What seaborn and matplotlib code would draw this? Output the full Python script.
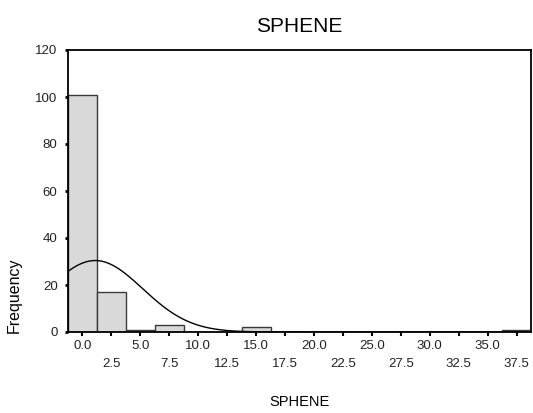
import numpy as np
import pandas as pd
import matplotlib
matplotlib.use("Agg")
import matplotlib.pyplot as plt
import seaborn as sns

# Data (bin centers, counts)
bin_centers = [0.0, 2.5, 5.0, 7.5, 10.0, 12.5, 15.0, 17.5, 20.0, 22.5, 25.0, 27.5, 30.0, 32.5, 35.0, 37.5]
counts = [101, 17, 1, 3, 0, 0, 2, 0, 0, 0, 0, 0, 0, 0, 0, 1]
tick_labels = ["0.0", "2.5", "5.0", "7.5", "10.0", "12.5", "15.0", "17.5", "20.0",
               "22.5", "25.0", "27.5", "30.0", "32.5", "35.0", "37.5"]
y_ticks = [0, 20, 40, 60, 80, 100, 120]
bin_width = 2.5
# Normal curve parameters (fitted curve shown in the reference)
curve_mean = 1.1
curve_sd = 4.1

sns.set_theme(style="white")
plt.rcParams["font.family"] = ["Liberation Sans", "DejaVu Sans"]
plt.rcParams["text.color"] = "black"
plt.rcParams["xtick.color"] = "black"
plt.rcParams["ytick.color"] = "black"
plt.rcParams["axes.labelcolor"] = "black"

fig = plt.figure(figsize=(5.33, 4.13), dpi=100)
ax = fig.add_axes([68/533, 81/413, 463/533, 282/413])

df = pd.DataFrame({"SPHENE": bin_centers, "count": counts})
lo = bin_centers[0] - bin_width / 2
hi = bin_centers[-1] + bin_width / 2
sns.histplot(data=df, x="SPHENE", weights="count", binwidth=bin_width, binrange=(lo, hi), ax=ax,
             color="#d9d9d9", edgecolor="#3a3a3a", linewidth=1.0, alpha=1.0)

n_total = sum(counts)
xs = np.linspace(lo, hi, 400)
ys = n_total * bin_width * np.exp(-0.5 * ((xs - curve_mean) / curve_sd) ** 2) / (curve_sd * np.sqrt(2 * np.pi))
sns.lineplot(x=xs, y=ys, ax=ax, color="black", linewidth=1.0)

ax.set_xlim(lo, hi)
ax.set_ylim(0, 120)
ax.set_yticks(y_ticks)
ax.set_yticklabels([str(v) for v in y_ticks], fontsize=9.5, color="#222222")
ax.set_xticks(bin_centers)
ax.set_xticklabels([lab if i % 2 == 0 else "\n" + lab for i, lab in enumerate(tick_labels)],
                   fontsize=9.5, linespacing=1.6, color="#222222")
ax.tick_params(axis="both", which="both", direction="out", length=3, width=1.5,
               color="black", left=True, bottom=True, pad=3)
ax.tick_params(axis="y", length=2.5, width=2, pad=5)

for s in ax.spines.values():
    s.set_visible(True)
    s.set_color("black")
    s.set_linewidth(1.3)

ax.set_title("SPHENE", fontsize=15, pad=13, color="black")
ax.set_xlabel("SPHENE", fontsize=10.5, labelpad=18, color="black")
ax.set_ylabel("Frequency", fontsize=11.5, color="black")
ax.yaxis.set_label_coords(-0.10, 0.131)

fig.savefig("out.png", dpi=100)
